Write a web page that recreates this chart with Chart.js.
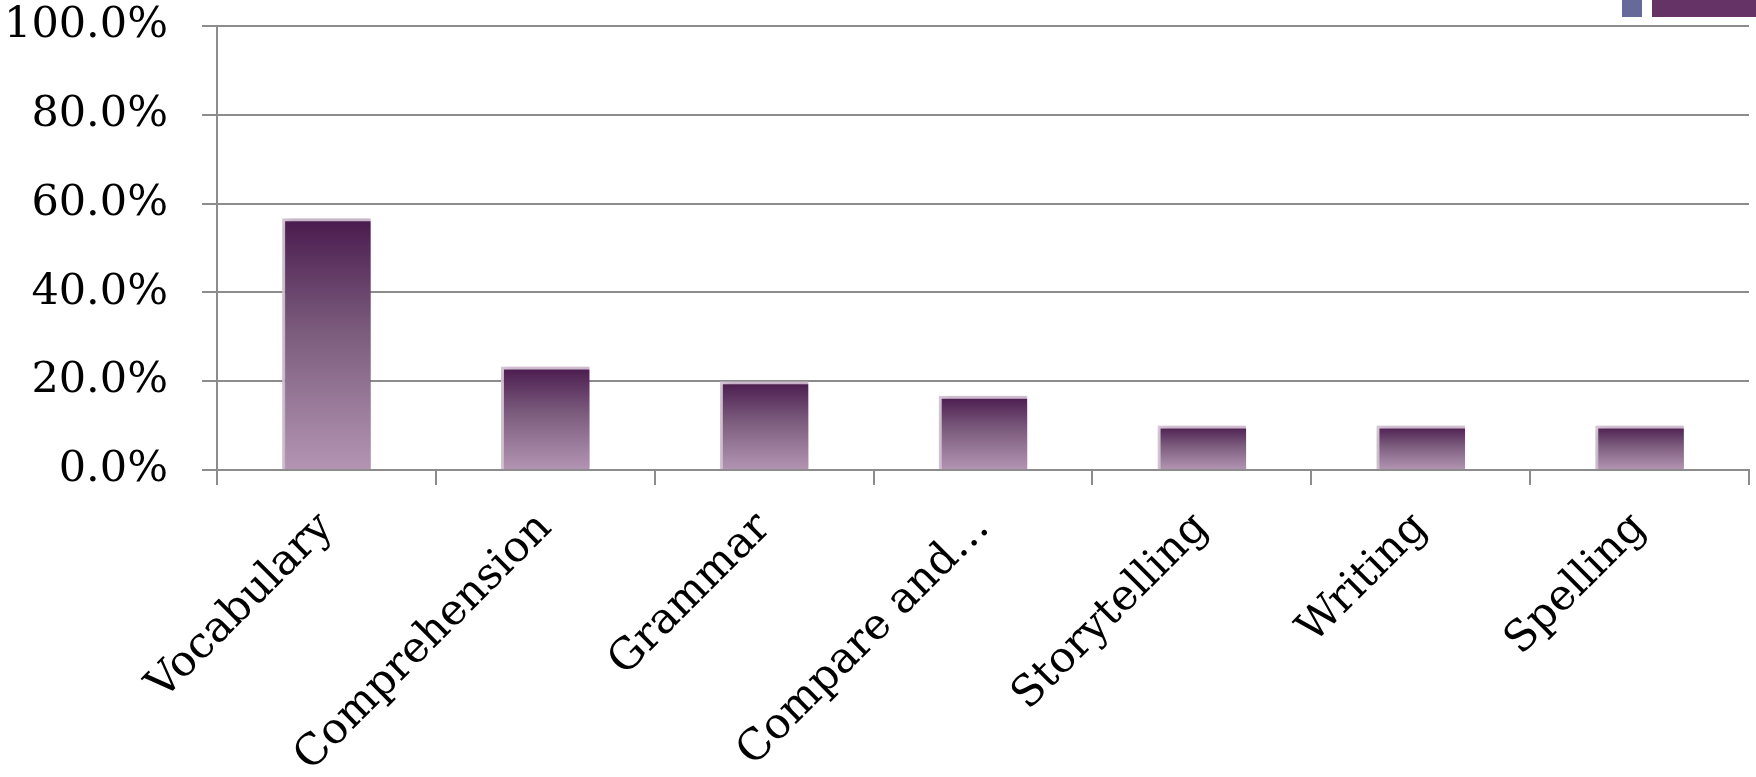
<!DOCTYPE html>
<html>
<head>
<meta charset="utf-8">
<script src="https://cdn.jsdelivr.net/npm/chart.js@4.4.1/dist/chart.umd.min.js"></script>
<style>
  html, body { margin: 0; padding: 0; background: #fff; overflow: hidden; }
  #wrap { width: 1756px; height: 777px; position: relative; }
</style>
</head>
<body>
<div id="wrap"><canvas id="skillsChart" width="1756" height="777"></canvas></div>
<script>
// skill areas and share of responses (percent)
const categories = ['Vocabulary', 'Comprehension', 'Grammar', 'Compare and…', 'Storytelling', 'Writing', 'Spelling'];
const shares = [56.7, 23.3, 20.0, 16.7, 10.0, 10.0, 10.0];
const yTicks = [0, 20, 40, 60, 80, 100];

const GRID = '#8c8c8c';
const FONT = 'DejaVu Serif';

// vertical plum gradient, dark at the top of each bar
function barGradient(c) {
    const chart = c.chart;
    const y = chart.scales.y;
    if (!y || c.raw == null) return '#7a5a7a';
    const top = y.getPixelForValue(c.raw);
    const base = y.getPixelForValue(0);
    if (!isFinite(top) || !isFinite(base)) return '#7a5a7a';
    const g = chart.ctx.createLinearGradient(0, top, 0, base);
    g.addColorStop(0, '#4a1a4e');
    g.addColorStop(0.45, '#7b5c7d');
    g.addColorStop(1, '#b395b3');
    return g;
}

// soft drop shadow behind the bars
const barShadow = {
    id: 'barShadow',
    beforeDatasetsDraw(chart) {
        const ctx = chart.ctx;
        ctx.save();
        ctx.shadowColor = 'rgba(0,0,0,0.35)';
        ctx.shadowBlur = 7;
        ctx.shadowOffsetX = 3;
        ctx.shadowOffsetY = 2;
    },
    afterDatasetsDraw(chart) {
        chart.ctx.restore();
    }
};

// legend swatches along the top edge
const swatches = {
    id: 'swatches',
    afterDraw(chart) {
        const ctx = chart.ctx;
        ctx.save();
        ctx.fillStyle = '#656a9a';
        ctx.fillRect(1622, 0, 20, 17);
        ctx.fillStyle = '#663366';
        ctx.fillRect(1652, 0, 110, 17);
        ctx.restore();
    }
};

const ctx = document.getElementById('skillsChart');
new Chart(ctx.getContext('2d'), {
    type: 'bar',
    data: {
        labels: categories,
        datasets: [{
            data: shares,
            backgroundColor: barGradient,
            borderColor: 'rgba(214,192,214,0.95)',
            borderWidth: { top: 3, left: 3, right: 0, bottom: 0 },
            borderSkipped: false,
            categoryPercentage: 1,
            barPercentage: 0.405
        }]
    },
    options: {
        responsive: false,
        animation: false,
        devicePixelRatio: 1,
        layout: { padding: { top: 26, right: 7, left: 0, bottom: 0 } },
        plugins: {
            legend: { display: false },
            tooltip: { enabled: false }
        },
        scales: {
            x: {
                grid: {
                    display: true,
                    drawOnChartArea: false,
                    offset: true,
                    color: GRID,
                    lineWidth: 2,
                    tickLength: 15
                },
                border: { display: true, color: GRID, width: 2 },
                ticks: {
                    color: '#000',
                    font: { family: FONT, size: 43 },
                    minRotation: 45,
                    maxRotation: 45,
                    autoSkip: false,
                    padding: 18
                },
                afterFit(scale) {
                    scale.height = 307;
                    scale.paddingLeft = 0;
                    scale.paddingRight = 0;
                }
            },
            y: {
                min: 0,
                max: 100,
                afterBuildTicks(scale) {
                    scale.ticks = yTicks.map(v => ({ value: v }));
                },
                grid: {
                    color: GRID,
                    lineWidth: 2,
                    tickLength: 15
                },
                border: { display: true, color: GRID, width: 2 },
                ticks: {
                    color: '#000',
                    font: { family: FONT, size: 43 },
                    padding: 34,
                    callback: v => v.toFixed(1) + '%'
                },
                afterFit(scale) {
                    scale.width = 217;
                    scale.paddingTop = 0;
                    scale.paddingBottom = 0;
                }
            }
        }
    },
    plugins: [barShadow, swatches]
});
</script>
</body>
</html>
